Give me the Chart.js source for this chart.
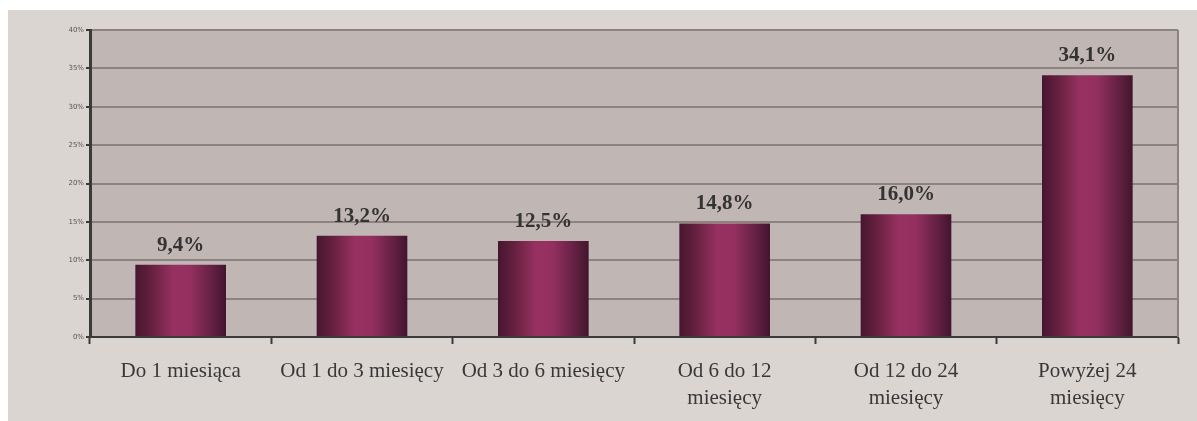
<!DOCTYPE html>
<html>
<head>
<meta charset="utf-8">
<script src="https://cdn.jsdelivr.net/npm/chart.js@4"></script>
<style>
  html, body { margin: 0; padding: 0; background: #ffffff; }
  #wrap { width: 1197px; height: 421px; }
</style>
</head>
<body>
<div id="wrap"><canvas id="barChart" width="1197" height="421"></canvas></div>
<script>
const categories = [
    'Do 1 miesiąca',
    'Od 1 do 3 miesięcy',
    'Od 3 do 6 miesięcy',
    ['Od 6 do 12', 'miesięcy'],
    ['Od 12 do 24', 'miesięcy'],
    ['Powyżej 24', 'miesięcy']
];
const shares = [9.4, 13.2, 12.5, 14.8, 16.0, 34.1];
const shareLabels = ['9,4%', '13,2%', '12,5%', '14,8%', '16,0%', '34,1%'];

const serif = '"Liberation Serif", "Times New Roman", serif';

// background panel + plot area fill
const backdrop = {
    id: 'backdrop',
    beforeDraw(chart) {
        const c = chart.ctx, a = chart.chartArea;
        c.save();
        c.fillStyle = '#ffffff';
        c.fillRect(0, 0, chart.width, chart.height);
        c.fillStyle = '#dbd5d2';
        c.fillRect(8, 10, chart.width - 8, chart.height - 10);
        c.fillStyle = '#c0b7b4';
        c.fillRect(a.left, a.top, a.right - a.left, a.bottom - a.top);
        c.restore();
    },
    afterDatasetsDraw(chart) {
        const c = chart.ctx, a = chart.chartArea;
        c.save();
        c.strokeStyle = '#8e8280';
        c.lineWidth = 2;
        c.beginPath();
        c.moveTo(a.right, a.top);
        c.lineTo(a.right, a.bottom);
        c.stroke();
        c.restore();
    }
};

// value labels above bars
const valueLabels = {
    id: 'valueLabels',
    afterDatasetsDraw(chart) {
        const c = chart.ctx;
        const meta = chart.getDatasetMeta(0);
        c.save();
        c.font = 'bold 21px ' + serif;
        c.fillStyle = '#333333';
        c.textAlign = 'center';
        c.textBaseline = 'bottom';
        meta.data.forEach((bar, i) => {
            c.fillText(shareLabels[i], bar.x, bar.y - 9);
        });
        c.restore();
    }
};

function barGradient(context) {
    const chart = context.chart;
    const a = chart.chartArea;
    if (!a || context.dataIndex === undefined) return '#8a2c58';
    const step = (a.right - a.left) / categories.length;
    const cx = a.left + (context.dataIndex + 0.5) * step;
    const half = step * 0.5 / 2;
    if (!Number.isFinite(cx) || !Number.isFinite(half)) return '#8a2c58';
    const g = chart.ctx.createLinearGradient(cx - half, 0, cx + half, 0);
    g.addColorStop(0, '#461630');
    g.addColorStop(0.18, '#66213f');
    g.addColorStop(0.42, '#973161');
    g.addColorStop(0.6, '#943060');
    g.addColorStop(0.85, '#632042');
    g.addColorStop(1, '#42152d');
    return g;
}

new Chart(document.getElementById('barChart').getContext('2d'), {
    type: 'bar',
    data: {
        labels: categories,
        datasets: [{
            data: shares,
            backgroundColor: barGradient,
            borderWidth: 0,
            categoryPercentage: 1,
            barPercentage: 0.5
        }]
    },
    options: {
        responsive: false,
        animation: false,
        layout: { padding: { left: 0, top: 30, right: 19, bottom: 0 } },
        plugins: {
            legend: { display: false },
            tooltip: { enabled: false }
        },
        scales: {
            x: {
                afterFit(scale) { scale.height = 84; },
                grid: {
                    offset: true,
                    drawOnChartArea: false,
                    tickColor: '#3a3a3a',
                    tickLength: 7,
                    tickWidth: 2
                },
                border: { color: '#3a3a3a', width: 2 },
                ticks: {
                    color: '#383838',
                    font: { family: serif, size: 21, lineHeight: 1.3 },
                    padding: 14,
                    maxRotation: 0,
                    autoSkip: false
                }
            },
            y: {
                min: 0,
                max: 40,
                afterFit(scale) { scale.width = 90; },
                grid: {
                    color: '#8e8280',
                    lineWidth: 2,
                    tickColor: '#3a3a3a',
                    tickLength: 4
                },
                border: { color: '#3a3a3a', width: 3 },
                ticks: {
                    stepSize: 5,
                    color: '#555555',
                    font: { family: '"DejaVu Sans", sans-serif', size: 7 },
                    padding: 2,
                    callback: v => v + '%'
                }
            }
        }
    },
    plugins: [backdrop, valueLabels]
});
</script>
</body>
</html>
